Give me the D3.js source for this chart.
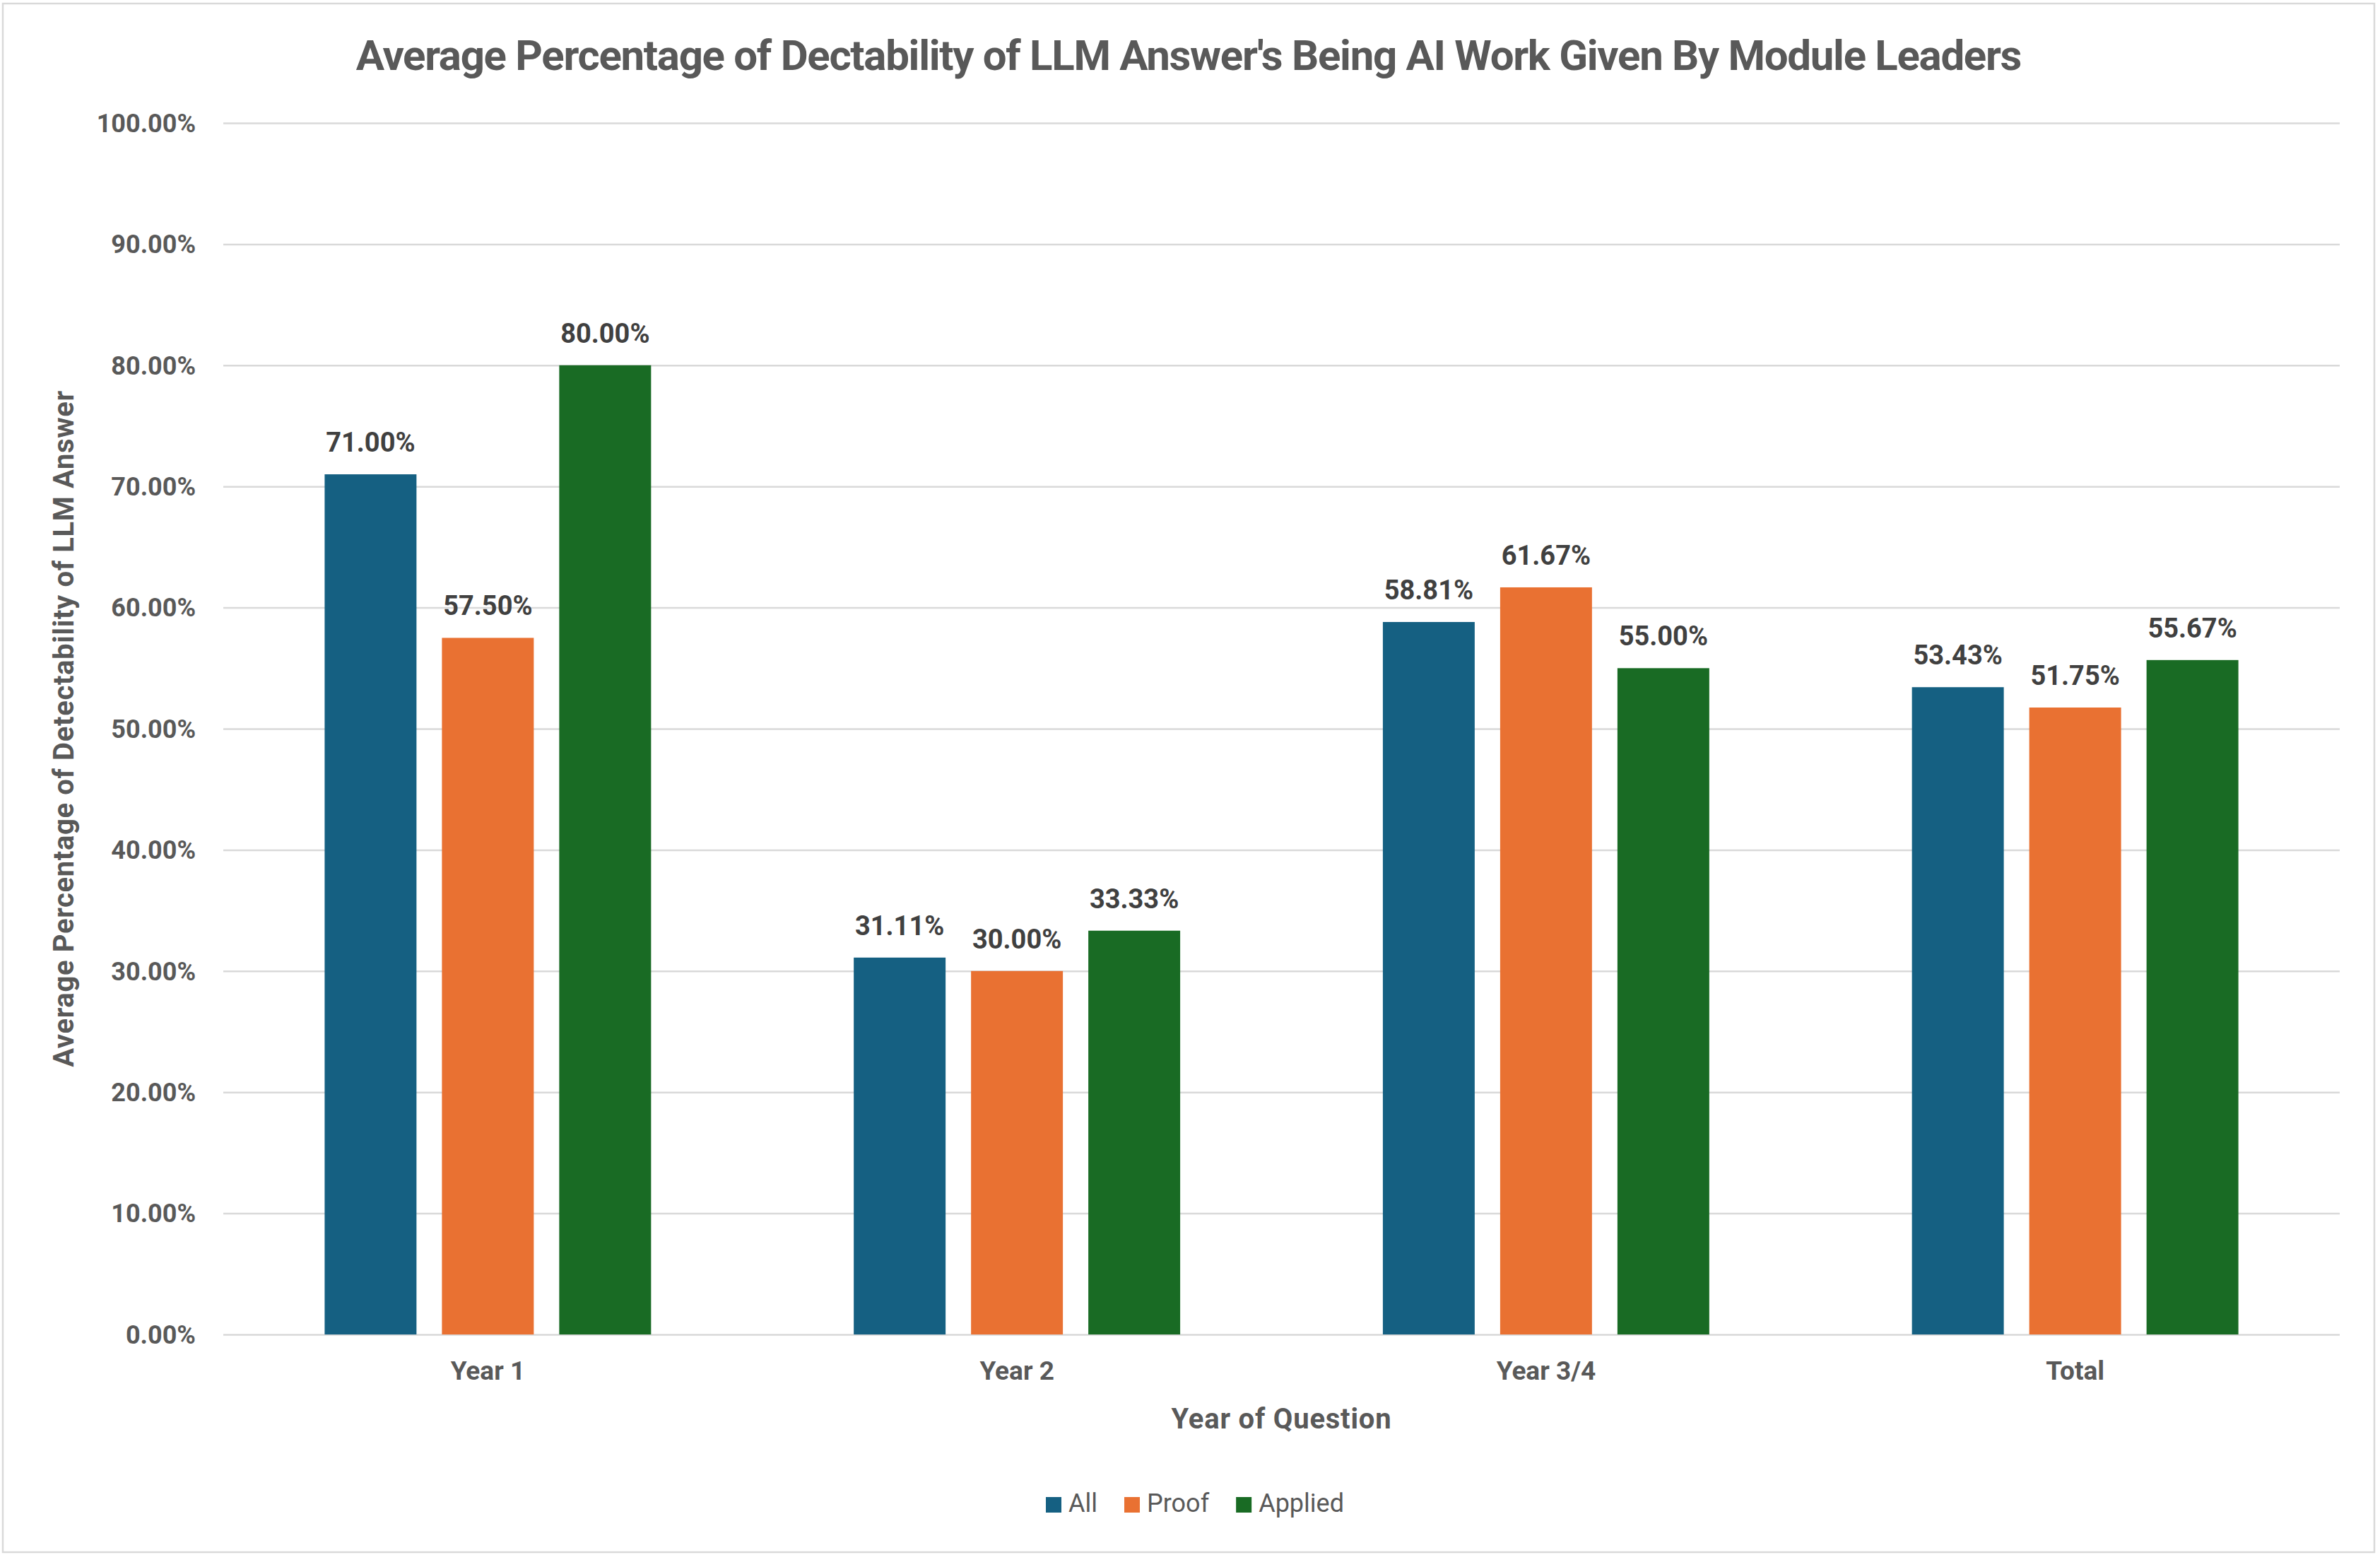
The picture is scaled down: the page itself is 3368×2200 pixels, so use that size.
<!DOCTYPE html>
<html>
<head>
<meta charset="utf-8">
<script src="https://cdn.jsdelivr.net/npm/d3@7"></script>
<style>
  html, body { margin: 0; padding: 0; background: #ffffff; }
  svg { display: block; }
  text { font-family: Roboto, "Open Sans", "Liberation Sans", sans-serif; }
</style>
</head>
<body>
<svg id="chart" width="3368" height="2200"></svg>
<script>
// ---------- data ----------
const categories = ["Year 1", "Year 2", "Year 3/4", "Total"];
const seriesNames = ["All", "Proof", "Applied"];
const allValues = [0.7100, 0.3111, 0.5881, 0.5343];
const proofValues = [0.5750, 0.3000, 0.6167, 0.5175];
const appliedValues = [0.8000, 0.3333, 0.5500, 0.5567];
const yTickValues = [0, 0.1, 0.2, 0.3, 0.4, 0.5, 0.6, 0.7, 0.8, 0.9, 1.0];
const seriesColors = ["#156082", "#E97132", "#196B24"];
const titleText = "Average Percentage of Dectability of LLM Answer's Being AI Work Given By Module Leaders";
const xTitleText = "Year of Question";
const yTitleText = "Average Percentage of Detectability of LLM Answer";

const seriesValues = [allValues, proofValues, appliedValues];
const table = categories.map((c, i) => ({
  category: c,
  values: seriesNames.map((s, j) => ({ series: s, value: seriesValues[j][i] }))
}));

// ---------- layout ----------
const W = 3368, H = 2200;
const plotLeft = 316, plotRight = 3311, plotTop = 174, plotBottom = 1888;
const svg = d3.select("#chart");

// outer border
svg.append("rect")
  .attr("x", 4).attr("y", 5).attr("width", 3356).attr("height", 2191)
  .attr("fill", "#ffffff").attr("stroke", "#d9d9d9").attr("stroke-width", 2.5);

const x0 = d3.scaleBand().domain(categories).range([plotLeft, plotRight]).padding(0);
const x1 = d3.scaleBand().domain(seriesNames).range([0, x0.bandwidth()])
  .paddingInner(0.217).paddingOuter(0.864);
const y = d3.scaleLinear().domain([0, 1]).range([plotBottom, plotTop]);
const color = d3.scaleOrdinal().domain(seriesNames).range(seriesColors);

// helper: fit text to a target width by adjusting letter-spacing
function fitWidth(sel, target) {
  const node = sel.node();
  const n = sel.text().length;
  const w = node.getComputedTextLength();
  const ls = (target - w) / Math.max(1, n - 1);
  sel.attr("letter-spacing", ls.toFixed(2));
}

// ---------- y axis with gridlines ----------
const yAxis = d3.axisLeft(y)
  .tickValues(yTickValues)
  .tickFormat(d3.format(".2%"))
  .tickSize(-(plotRight - plotLeft))
  .tickPadding(39);
const gy = svg.append("g").attr("transform", `translate(${plotLeft},0)`).call(yAxis);
gy.select(".domain").remove();
gy.selectAll(".tick line").attr("stroke", "#d9d9d9").attr("stroke-width", 2.5);
gy.selectAll(".tick text")
  .attr("fill", "#595959")
  .attr("font-size", 36)
  .attr("font-weight", 700)
  .attr("dy", "0.34em");

// ---------- x axis ----------
const xAxis = d3.axisBottom(x0).tickSize(0).tickPadding(0);
const gx = svg.append("g").attr("transform", `translate(0,${plotBottom})`).call(xAxis);
gx.select(".domain").remove();
gx.selectAll(".tick text")
  .attr("fill", "#595959")
  .attr("font-size", 37)
  .attr("font-weight", 700)
  .attr("y", 64).attr("dy", 0);

// ---------- bars ----------
const groups = svg.append("g").selectAll("g.group")
  .data(table).join("g")
  .attr("class", "group")
  .attr("transform", d => `translate(${x0(d.category)},0)`);

groups.selectAll("rect")
  .data(d => d.values).join("rect")
  .attr("x", d => x1(d.series))
  .attr("width", x1.bandwidth())
  .attr("y", d => y(d.value))
  .attr("height", d => y(0) - y(d.value))
  .attr("fill", d => color(d.series));

groups.selectAll("text.val")
  .data(d => d.values).join("text")
  .attr("class", "val")
  .attr("x", d => x1(d.series) + x1.bandwidth() / 2)
  .attr("y", d => y(d.value) - 32)
  .attr("text-anchor", "middle")
  .attr("fill", "#404040")
  .attr("font-size", 38)
  .attr("font-weight", 700)
  .text(d => d3.format(".2%")(d.value));

// ---------- titles ----------
const title = svg.append("text")
  .attr("x", 1682).attr("y", 99)
  .attr("text-anchor", "middle")
  .attr("fill", "#595959")
  .attr("font-size", 60)
  .attr("font-weight", 700)
  .text(titleText);
fitWidth(title, 2358);

const xTitle = svg.append("text")
  .attr("x", (plotLeft + plotRight) / 2).attr("y", 2021)
  .attr("text-anchor", "middle")
  .attr("fill", "#595959")
  .attr("font-size", 40)
  .attr("font-weight", 700)
  .text(xTitleText);
fitWidth(xTitle, 311);

const yTitle = svg.append("text")
  .attr("transform", `translate(104,1031) rotate(-90)`)
  .attr("text-anchor", "middle")
  .attr("fill", "#595959")
  .attr("font-size", 40)
  .attr("font-weight", 700)
  .text(yTitleText);
fitWidth(yTitle, 957);

// ---------- legend ----------
const legend = svg.append("g");
const legendItems = legend.selectAll("g")
  .data(seriesNames).join("g");
legendItems.append("rect")
  .attr("width", 22).attr("height", 22)
  .attr("y", 2118)
  .attr("fill", d => color(d));
legendItems.append("text")
  .attr("y", 2139)
  .attr("fill", "#595959")
  .attr("font-size", 36)
  .attr("font-weight", 400)
  .text(d => d);
// position legend items
const gapSwatchText = 10, gapItems = 38;
let cursor = 0;
const widths = [];
legendItems.each(function () {
  const tw = d3.select(this).select("text").node().getComputedTextLength();
  widths.push(tw);
});
const totalW = widths.reduce((a, w) => a + 22 + gapSwatchText + w, 0) + gapItems * (widths.length - 1);
let start = 1691 - totalW / 2;
legendItems.each(function (d, i) {
  const g = d3.select(this);
  g.select("rect").attr("x", start);
  g.select("text").attr("x", start + 22 + gapSwatchText);
  start += 22 + gapSwatchText + widths[i] + gapItems;
});
</script>
</body>
</html>
